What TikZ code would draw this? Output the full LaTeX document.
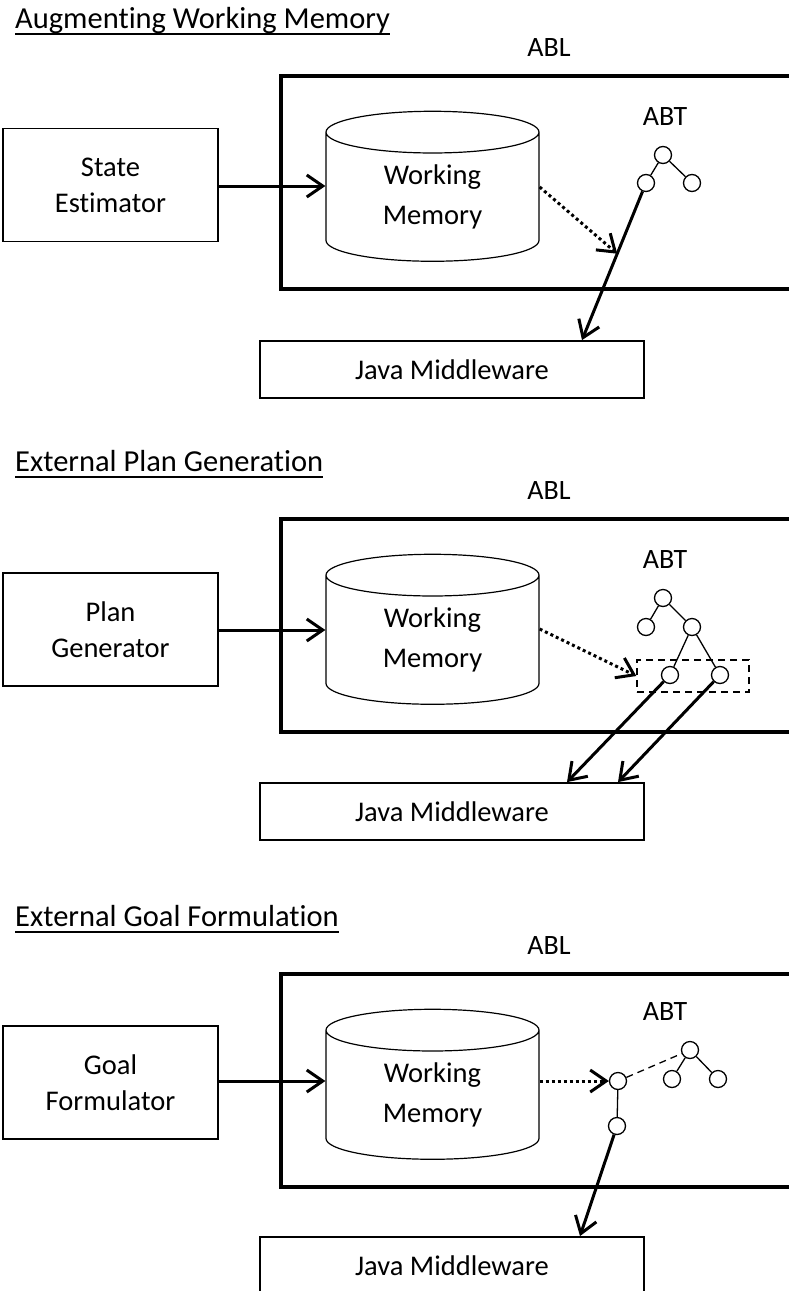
\documentclass[tikz,border=0pt]{standalone}
\usepackage{fontspec}
\setmainfont{Carlito}[Ligatures=NoCommon]
\usetikzlibrary{calc, arrows.meta, shapes.geometric}

\newcommand{\titleul}[1]{\setbox0\hbox{#1}\rlap{\rule[-7pt]{\wd0}{1.8pt}}\box0}

\tikzset{
  ttl/.style={anchor=base west, font=\fontsize{30.5}{36}\selectfont, inner sep=0pt},
  lbl/.style={font=\fontsize{28}{34}\selectfont, inner sep=0pt},
  srcbox/.style={draw, line width=1.5pt, minimum width=215pt, minimum height=113pt, align=center, font=\fontsize{28.5}{36}\selectfont},
  ablbox/.style={draw, line width=4pt, minimum width=519pt, minimum height=213pt},
  wmem/.style={cylinder, shape border rotate=90, draw, line width=1.2pt, aspect=0.42, minimum width=213pt, minimum height=150pt, align=center, font=\fontsize{28.5}{40}\selectfont, inner sep=0pt},
  jbox/.style={draw, line width=1.8pt, minimum width=384pt, minimum height=57pt, font=\fontsize{28.5}{34}\selectfont},
  tn/.style={circle, draw, line width=1.3pt, minimum size=17pt, inner sep=0pt, fill=white},
  tedge/.style={line width=1.3pt},
  dedge/.style={line width=1.3pt, dash pattern=on 7pt off 5pt},
  arr/.style={line width=3pt, -{Straight Barb[length=16pt,width=22pt]}},
  dotarr/.style={arr, dash pattern=on 3pt off 3pt},
  selbox/.style={draw, line width=1.3pt, dash pattern=on 7pt off 5pt, minimum width=112pt, minimum height=32pt}
}

\begin{document}
\begin{tikzpicture}[x=1pt, y=-1pt]
\useasboundingbox (0,0) rectangle (788,1291);

% augmenting working memory
\node[ttl] (t1) at (15,28) {\titleul{Augmenting Working Memory}};
\node[lbl] (abl1) at (549,48) {ABL};
\node[ablbox] (box1) at (540.5,182.5) {};
\node[srcbox] (se) at (110.5,185) {State\\Estimator};
\node[wmem] (wm1) at (432.5,197) {Working\\Memory};
\node[lbl] (abt1) at (665,117) {ABT};
\node[tn] (r1) at (663,155) {};
\node[tn] (a1) at (646,183) {};
\node[tn] (b1) at (692,183) {};
\node[jbox] (jm1) at (452,369.5) {Java Middleware};
\coordinate (e1) at ($(jm1.north)+(130,0)$);
\draw[tedge] (r1) -- (a1) (r1) -- (b1);
\draw[arr] (se.east |- 0,186) -- (wm1.west |- 0,186);
\draw[arr] (a1) -- (e1);
\draw[dotarr] (wm1.east |- 0,187) -- ($(a1)!0.45!(e1)$);

% external plan generation
\begin{scope}[shift={(0,443)}]
\node[ttl] (t2) at (15,28) {\titleul{External Plan Generation}};
\node[lbl] (abl2) at (549,48) {ABL};
\node[ablbox] (box2) at (540.5,182.5) {};
\node[srcbox] (pg) at (110.5,186.5) {Plan\\Generator};
\node[wmem] (wm2) at (432.5,197) {Working\\Memory};
\node[lbl] (abt2) at (665,117) {ABT};
\node[tn] (r2) at (663,155) {};
\node[tn] (a2) at (646,184) {};
\node[tn] (b2) at (692,184) {};
\node[tn] (c2) at (670,232) {};
\node[tn] (d2) at (720,232) {};
\node[selbox] (sel2) at (693,233) {};
\node[jbox] (jm2) at (452,368.5) {Java Middleware};
\coordinate (e2a) at ($(jm2.north)+(115,0)$);
\coordinate (e2b) at ($(jm2.north)+(166,0)$);
\draw[tedge] (r2) -- (a2) (r2) -- (b2) (b2) -- (c2) (b2) -- (d2);
\draw[arr] (pg.east |- 0,187) -- (wm2.west |- 0,187);
\draw[arr] (c2) -- (e2a);
\draw[arr] (d2) -- (e2b);
\draw[dotarr] (wm2.east |- 0,186) -- (sel2.west);
\end{scope}

% external goal formulation
\begin{scope}[shift={(0,898)}]
\node[ttl] (t3) at (15,28) {\titleul{External Goal Formulation}};
\node[lbl] (abl3) at (549,48) {ABL};
\node[ablbox] (box3) at (540.5,182.5) {};
\node[srcbox] (gf) at (110.5,184.5) {Goal\\Formulator};
\node[wmem] (wm3) at (432.5,197) {Working\\Memory};
\node[lbl] (abt3) at (665,114) {ABT};
\node[tn] (r3) at (690,152) {};
\node[tn] (a3) at (672,181) {};
\node[tn] (b3) at (718,181) {};
\node[tn] (g3) at (618,183) {};
\node[tn] (h3) at (617,228) {};
\node[jbox] (jm3) at (452,367.5) {Java Middleware};
\coordinate (e3) at ($(jm3.north)+(128,0)$);
\draw[tedge] (r3) -- (a3) (r3) -- (b3) (g3) -- (h3);
\draw[dedge] (g3) -- (r3);
\draw[arr] (gf.east |- g3) -- (wm3.west |- g3);
\draw[arr] (h3) -- (e3);
\draw[dotarr] (wm3.east |- g3) -- (g3);
\end{scope}
\end{tikzpicture}
\end{document}
